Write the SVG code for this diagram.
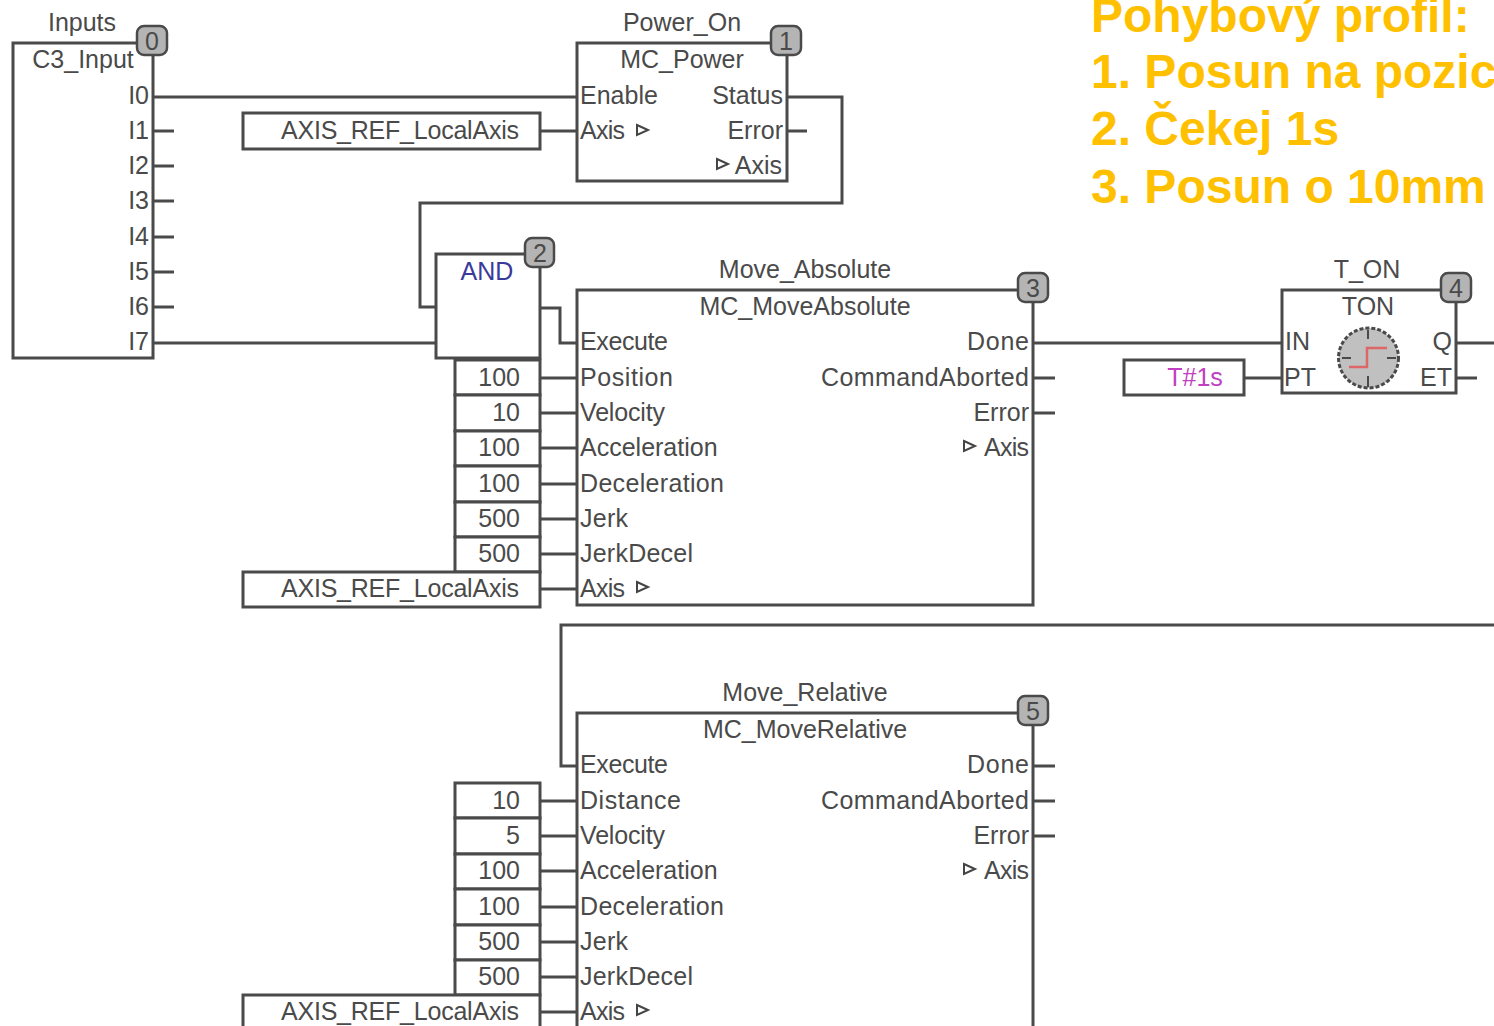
<svg xmlns="http://www.w3.org/2000/svg" width="1494" height="1026" viewBox="0 0 1494 1026">
<defs>
<path id="tri" d="M-5 -5 L6 0 L-5 5 Z" fill="#fff" stroke="#444" stroke-width="2"/>
</defs>
<style>
text{font-family:"Liberation Sans",Arial,sans-serif;font-size:25px;fill:#4a4a4a}
.m{text-anchor:middle}.e{text-anchor:end}
.b{fill:#fff;stroke:#4a4a4a;stroke-width:3}
.w{fill:none;stroke:#4a4a4a;stroke-width:3}
.n{fill:#b4b4b4;stroke:#4a4a4a;stroke-width:2.5}
.o{font-family:"Liberation Sans",Arial,sans-serif;font-weight:700;font-size:48px;fill:#ffc000}
</style>
<rect width="1494" height="1026" fill="#fff"/>
<g id="connectors" class="w">
<path class="w" d="M153 97H577M153 131H174M153 166H174M153 201H174M153 237H174M153 272H174M153 307H174M153 343H436"/>
<path class="w" d="M540 131H577M787 97H842V203H420V307H436M787 131H807"/>
<path class="w" d="M540 308H560V343H577M540 378H577M540 413H577M540 448H577M540 484H577M540 519H577M540 554H577M540 589H577"/>
<path class="w" d="M1033 343H1282M1033 378H1055M1033 413H1055M1245 378H1282M1456 343H1494M1456 378H1477"/>
<path class="w" d="M1494 625H561V766H577M1033 766H1055M1033 801H1055M1033 836H1055"/>
<path class="w" d="M540 801H577M540 836H577M540 871H577M540 907H577M540 942H577M540 977H577M540 1012H577"/>
</g>
<g id="node0"><rect class="b" x="13" y="43" width="140" height="315"/>
<text class="m" x="82" y="31">Inputs</text><text class="m" x="83" y="68">C3_Input</text>
<text class="e" x="149" y="104">I0</text><text class="e" x="149" y="139">I1</text><text class="e" x="149" y="174">I2</text><text class="e" x="149" y="209">I3</text><text class="e" x="149" y="245">I4</text><text class="e" x="149" y="280">I5</text><text class="e" x="149" y="315">I6</text><text class="e" x="149" y="350">I7</text>
<rect class="n" x="137" y="26" width="30" height="29" rx="7"/><text class="m" x="152" y="50">0</text></g>
<g id="node1"><rect class="b" x="577" y="43" width="210" height="138"/>
<text class="m" x="682" y="31">Power_On</text><text class="m" x="682" y="68">MC_Power</text>
<text x="580" y="104">Enable</text><text x="580" y="139" textLength="45">Axis</text><use href="#tri" x="642" y="130"/>
<text class="e" x="783" y="104">Status</text><text class="e" x="783" y="139">Error</text><use href="#tri" x="722" y="164"/><text class="e" x="782" y="174">Axis</text>
<rect class="n" x="771" y="26" width="30" height="29" rx="7"/><text class="m" x="786" y="50">1</text></g>
<g id="axis1"><rect class="b" x="243" y="113" width="297" height="36"/><text x="281" y="139" textLength="238">AXIS_REF_LocalAxis</text></g>
<g id="node2"><rect class="b" x="436" y="254" width="104" height="104"/><text class="m" x="487" y="280" style="fill:#3a3a9a">AND</text>
<rect class="n" x="525" y="238" width="29" height="29" rx="7"/><text class="m" x="540" y="262">2</text></g>
<g id="node3"><rect class="b" x="577" y="290" width="456" height="315"/>
<text class="m" x="805" y="278">Move_Absolute</text><text class="m" x="805" y="315">MC_MoveAbsolute</text>
<text x="580" y="350" textLength="88">Execute</text><text x="580" y="386" textLength="93">Position</text><text x="580" y="421" textLength="85">Velocity</text><text x="580" y="456">Acceleration</text><text x="580" y="492" textLength="144">Deceleration</text><text x="580" y="527" textLength="48">Jerk</text><text x="580" y="562" textLength="113">JerkDecel</text><text x="580" y="597" textLength="45">Axis</text><use href="#tri" x="642" y="587"/>
<text x="967" y="350" textLength="62">Done</text><text x="821" y="386" textLength="208">CommandAborted</text><text class="e" x="1029" y="421">Error</text><use href="#tri" x="969" y="446"/><text x="984" y="456" textLength="45">Axis</text>
<rect class="n" x="1018" y="273" width="30" height="29" rx="7"/><text class="m" x="1033" y="297">3</text></g>
<g id="vals3">
<rect class="b" x="455" y="360" width="85" height="35"/><text class="e" x="520" y="386">100</text>
<rect class="b" x="455" y="395" width="85" height="36"/><text class="e" x="520" y="421">10</text>
<rect class="b" x="455" y="431" width="85" height="35"/><text class="e" x="520" y="456">100</text>
<rect class="b" x="455" y="466" width="85" height="36"/><text class="e" x="520" y="492">100</text>
<rect class="b" x="455" y="502" width="85" height="35"/><text class="e" x="520" y="527">500</text>
<rect class="b" x="455" y="537" width="85" height="35"/><text class="e" x="520" y="562">500</text>
<rect class="b" x="243" y="572" width="297" height="35"/><text x="281" y="597" textLength="238">AXIS_REF_LocalAxis</text></g>
<g id="node4"><rect class="b" x="1282" y="290" width="174" height="103"/>
<text class="m" x="1367" y="278">T_ON</text><text class="m" x="1368" y="315">TON</text>
<text x="1285" y="350">IN</text><text x="1284" y="386">PT</text><text class="e" x="1452" y="350">Q</text><text class="e" x="1452" y="386">ET</text>
<circle cx="1368.500" cy="358" r="30" fill="#c0c0c0" stroke="#4a4a4a" stroke-width="3" stroke-dasharray="4 2"/>
<path d="M1368 330V339M1368 376V387M1342 358H1351M1387 358H1396" stroke="#4a4a4a" stroke-width="2" fill="none"/>
<path d="M1349 367H1367V348H1387" stroke="#d66" stroke-width="2.500" fill="none"/>
<rect class="n" x="1441" y="273" width="30" height="29" rx="7"/><text class="m" x="1456" y="297">4</text></g>
<g id="tval"><rect class="b" x="1124" y="360" width="120" height="35"/><text class="m" x="1195" y="386" style="fill:#c040c0">T#1s</text></g>
<g id="node5"><rect class="b" x="577" y="713" width="456" height="330"/>
<text class="m" x="805" y="701">Move_Relative</text><text class="m" x="805" y="738">MC_MoveRelative</text>
<text x="580" y="773" textLength="88">Execute</text><text x="580" y="809" textLength="101">Distance</text><text x="580" y="844" textLength="85">Velocity</text><text x="580" y="879">Acceleration</text><text x="580" y="915" textLength="144">Deceleration</text><text x="580" y="950" textLength="48">Jerk</text><text x="580" y="985" textLength="113">JerkDecel</text><text x="580" y="1020" textLength="45">Axis</text><use href="#tri" x="642" y="1010"/>
<text x="967" y="773" textLength="62">Done</text><text x="821" y="809" textLength="208">CommandAborted</text><text class="e" x="1029" y="844">Error</text><use href="#tri" x="969" y="869"/><text x="984" y="879" textLength="45">Axis</text>
<rect class="n" x="1018" y="696" width="30" height="29" rx="7"/><text class="m" x="1033" y="720">5</text></g>
<g id="vals5">
<rect class="b" x="455" y="783" width="85" height="35"/><text class="e" x="520" y="809">10</text>
<rect class="b" x="455" y="818" width="85" height="36"/><text class="e" x="520" y="844">5</text>
<rect class="b" x="455" y="854" width="85" height="35"/><text class="e" x="520" y="879">100</text>
<rect class="b" x="455" y="889" width="85" height="36"/><text class="e" x="520" y="915">100</text>
<rect class="b" x="455" y="925" width="85" height="35"/><text class="e" x="520" y="950">500</text>
<rect class="b" x="455" y="960" width="85" height="35"/><text class="e" x="520" y="985">500</text>
<rect class="b" x="243" y="995" width="297" height="45"/><text x="281" y="1020" textLength="238">AXIS_REF_LocalAxis</text></g>
<g id="caption"><text class="o" x="1091" y="32">Pohybový profil:</text><text class="o" x="1091" y="88">1. Posun na pozic</text><text class="o" x="1091" y="145">2. Čekej 1s</text><text class="o" x="1091" y="203">3. Posun o 10mm</text></g>
</svg>
